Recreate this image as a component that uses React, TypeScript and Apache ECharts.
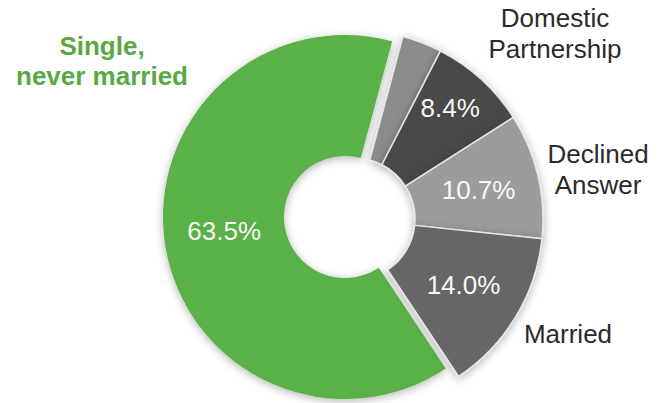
import React, { useEffect, useRef } from "react";
import * as echarts from "echarts";

const categories = ["Other", "Domestic Partnership", "Declined Answer", "Married", "Single, never married"];
const values = [3.4, 8.4, 10.7, 14.0, 63.5];
const colors = ["#8b8b8b", "#484848", "#9c9c9c", "#666666", "#5ab146"];
const showPct = [false, true, true, true, true];
const outsideLabels = ["Domestic\nPartnership", "Declined\nAnswer", "Married", "Single,\nnever married"];

const FONT = "'Liberation Sans', Arial, Helvetica, sans-serif";
const labelNudge: Record<number, [number, number]> = { 1: [10, -16], 4: [2, -6] };

function buildData(group: "green" | "gray") {
  return categories.map((name, i) => {
    const isGreen = i === 4;
    const visible = group === "green" ? isGreen : !isGreen;
    return {
      name,
      value: values[i],
      itemStyle: visible
        ? {
            color: colors[i],
            borderColor: "#e6e6e6",
            borderWidth: isGreen ? 0 : 1.5,
            shadowBlur: 8,
            shadowColor: "rgba(0,0,0,0.3)",
            shadowOffsetY: 2,
          }
        : { color: "rgba(0,0,0,0)", borderWidth: 0, shadowBlur: 0 },
      label: {
        show: visible && showPct[i],
      },
    };
  });
}

export default function App() {
  const ref = useRef<HTMLDivElement>(null);
  useEffect(() => {
    if (!ref.current) return;
    const chart = echarts.init(ref.current, null, { renderer: "svg" });
    const labelStyle = {
      position: "inside" as const,
      formatter: (p: any) => p.value.toFixed(1) + "%",
      color: "#f7f7f7",
      fontSize: 26,
      fontFamily: FONT,
    };
    const layout = (p: any) => {
      const n = labelNudge[p.dataIndex];
      return n ? { dx: n[0], dy: n[1] } : {};
    };
    chart.setOption({
      animation: false,
      backgroundColor: "#ffffff",
      series: [
        {
          type: "pie",
          center: [345, 217],
          radius: [61, 182],
          startAngle: 75,
          clockwise: true,
          silent: true,
          label: labelStyle,
          labelLine: { show: false },
          labelLayout: layout,
          data: buildData("green"),
        },
        {
          type: "pie",
          center: [354, 219],
          radius: [61, 189],
          startAngle: 75,
          clockwise: true,
          silent: true,
          label: labelStyle,
          labelLine: { show: false },
          labelLayout: layout,
          data: buildData("gray"),
        },
      ],
      graphic: [
        {
          type: "text",
          x: 555,
          y: 33,
          style: { text: outsideLabels[0], font: `26px ${FONT}`, fill: "#2a2a2a", align: "center", verticalAlign: "middle", lineHeight: 31 },
        },
        {
          type: "text",
          x: 598,
          y: 169,
          style: { text: outsideLabels[1], font: `26px ${FONT}`, fill: "#2a2a2a", align: "center", verticalAlign: "middle", lineHeight: 31 },
        },
        {
          type: "text",
          x: 568,
          y: 334,
          style: { text: outsideLabels[2], font: `26px ${FONT}`, fill: "#2a2a2a", align: "center", verticalAlign: "middle", lineHeight: 31 },
        },
        {
          type: "text",
          x: 102,
          y: 61,
          style: { text: outsideLabels[3], font: `bold 26px ${FONT}`, fill: "#5aa844", align: "center", verticalAlign: "middle", lineHeight: 30 },
        },
      ],
    });
    return () => chart.dispose();
  }, []);
  return (
    <div
      ref={ref}
      style={{ position: "fixed", left: 0, top: 0, width: 669, height: 403 }}
    />
  );
}
